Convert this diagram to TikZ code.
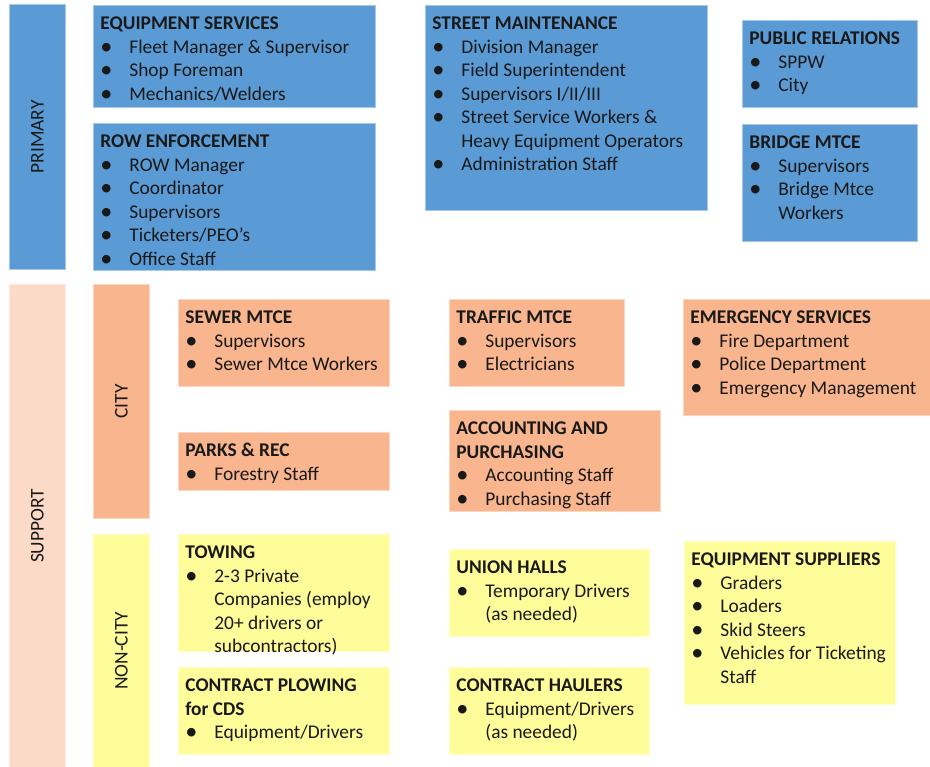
\documentclass[tikz,border=0pt]{standalone}
\usepackage{fontspec}
\setmainfont{Carlito}
\usetikzlibrary{positioning}

\definecolor{blueunit}{HTML}{5B9BD5}
\definecolor{orangeunit}{HTML}{F8B58E}
\definecolor{peachunit}{HTML}{FCDAC8}
\definecolor{yellowunit}{HTML}{FFFD99}

% one box: width and height of the text area, then the lines
\newcommand{\unitbox}[3]{\parbox[c][#2][t]{#1}{\raggedright\vspace*{8pt}#3}}
\newcommand{\hd}[1]{\strut\mbox{\textbf{#1}}}
\newcommand{\itm}[1]{\makebox[29pt][l]{\raisebox{-1pt}{\scalebox{1.25}{\textbullet}}}\mbox{#1}}
\newcommand{\cnt}[1]{\hspace*{29pt}\mbox{#1}}

\tikzset{
  every node/.style={font=\fontsize{19.4}{23.5}\selectfont, text=black!90, inner xsep=7pt, inner ysep=0pt, anchor=north west},
  primunit/.style={fill=blueunit, draw=blueunit!55!white, line width=0.8pt},
  cityunit/.style={fill=orangeunit, draw=orangeunit!55!white, line width=0.8pt},
  noncityunit/.style={fill=yellowunit, draw=yellowunit!55!white, line width=0.8pt},
  supportunit/.style={fill=peachunit, draw=peachunit!55!white, line width=0.8pt},
  bar/.style={minimum width=56pt, inner sep=0pt},
}

\begin{document}
\begin{tikzpicture}[x=1pt, y=-1pt]
\useasboundingbox (0,0) rectangle (930,767);

% ======================================
% PRIMARY
% ======================================
\node[primunit, bar, minimum height=265pt] (primbar) at (9,4) {\rotatebox{90}{PRIMARY}};

\node[primunit] (eqsvc) at (93,5) {\unitbox{268pt}{102pt}{%
  \hd{EQUIPMENT SERVICES}\\
  \itm{Fleet Manager \& Supervisor}\\
  \itm{Shop Foreman}\\
  \itm{Mechanics/Welders}}};
\node[primunit, below=15pt of eqsvc] (rowenf) {\unitbox{268pt}{147pt}{%
  \hd{ROW ENFORCEMENT}\\
  \itm{ROW Manager}\\
  \itm{Coordinator}\\
  \itm{Supervisors}\\
  \itm{Ticketers/PEO’s}\\
  \itm{Office Staff}}};

\node[primunit] (strmnt) at (425,5) {\unitbox{268pt}{205pt}{%
  \hd{STREET MAINTENANCE}\\
  \itm{Division Manager}\\
  \itm{Field Superintendent}\\
  \itm{Supervisors I/II/III}\\
  \itm{Street Service Workers \&}\\
  \cnt{Heavy Equipment Operators}\\
  \itm{Administration Staff}}};

\node[primunit] (pubrel) at (742,20) {\unitbox{161pt}{87pt}{%
  \hd{PUBLIC RELATIONS}\\
  \itm{SPPW}\\
  \itm{City}}};
\node[primunit, below=16pt of pubrel] (brmtce) {\unitbox{161pt}{117pt}{%
  \hd{BRIDGE MTCE}\\
  \itm{Supervisors}\\
  \itm{Bridge Mtce}\\
  \cnt{Workers}}};

% ======================================
% SUPPORT
% ======================================
\node[supportunit, bar, minimum height=483pt] (suppbar) at (9,284) {\rotatebox{90}{SUPPORT}};

% ======================================
% SUPPORT: CITY
% ======================================
\node[cityunit, bar, minimum height=234pt] (citybar) at (93,284) {\rotatebox{90}{CITY}};

\node[cityunit] (sewer) at (178,299) {\unitbox{197pt}{87pt}{%
  \hd{SEWER MTCE}\\
  \itm{Supervisors}\\
  \itm{Sewer Mtce Workers}}};
\node[cityunit, below=45pt of sewer] (parks) {\unitbox{197pt}{58pt}{%
  \hd{PARKS \& REC}\\
  \itm{Forestry Staff}}};

\node[cityunit] (traffic) at (449,299) {\unitbox{161pt}{87pt}{%
  \hd{TRAFFIC MTCE}\\
  \itm{Supervisors}\\
  \itm{Electricians}}};
\node[cityunit] (acct) at (449,410) {\unitbox{197pt}{101pt}{%
  \hd{ACCOUNTING AND}\\
  \hd{PURCHASING}\\
  \itm{Accounting Staff}\\
  \itm{Purchasing Staff}}};

\node[cityunit] (emerg) at (683,299) {\unitbox{233pt}{116pt}{%
  \hd{EMERGENCY SERVICES}\\
  \itm{Fire Department}\\
  \itm{Police Department}\\
  \itm{Emergency Management}}};

% ======================================
% SUPPORT: NON-CITY
% ======================================
\node[noncityunit, bar, minimum height=233pt] (noncitybar) at (93,534) {\rotatebox{90}{NON-CITY}};

\node[noncityunit] (towing) at (178,534) {\unitbox{197pt}{117pt}{%
  \hd{TOWING}\\
  \itm{2-3 Private}\\
  \cnt{Companies (employ}\\
  \cnt{20+ drivers or}\\
  \cnt{subcontractors)}}};
\node[noncityunit, below=15pt of towing] (plow) {\unitbox{197pt}{87pt}{%
  \hd{CONTRACT PLOWING}\\
  \hd{for CDS}\\
  \itm{Equipment/Drivers}}};

\node[noncityunit] (union) at (449,549) {\unitbox{186pt}{87pt}{%
  \hd{UNION HALLS}\\
  \itm{Temporary Drivers}\\
  \cnt{(as needed)}}};
\node[noncityunit, below=30pt of union] (haulers) {\unitbox{186pt}{87pt}{%
  \hd{CONTRACT HAULERS}\\
  \itm{Equipment/Drivers}\\
  \cnt{(as needed)}}};

\node[noncityunit] (eqsup) at (684,541) {\unitbox{197pt}{163pt}{%
  \hd{EQUIPMENT SUPPLIERS}\\
  \itm{Graders}\\
  \itm{Loaders}\\
  \itm{Skid Steers}\\
  \itm{Vehicles for Ticketing}\\
  \cnt{Staff}}};

\end{tikzpicture}
\end{document}
